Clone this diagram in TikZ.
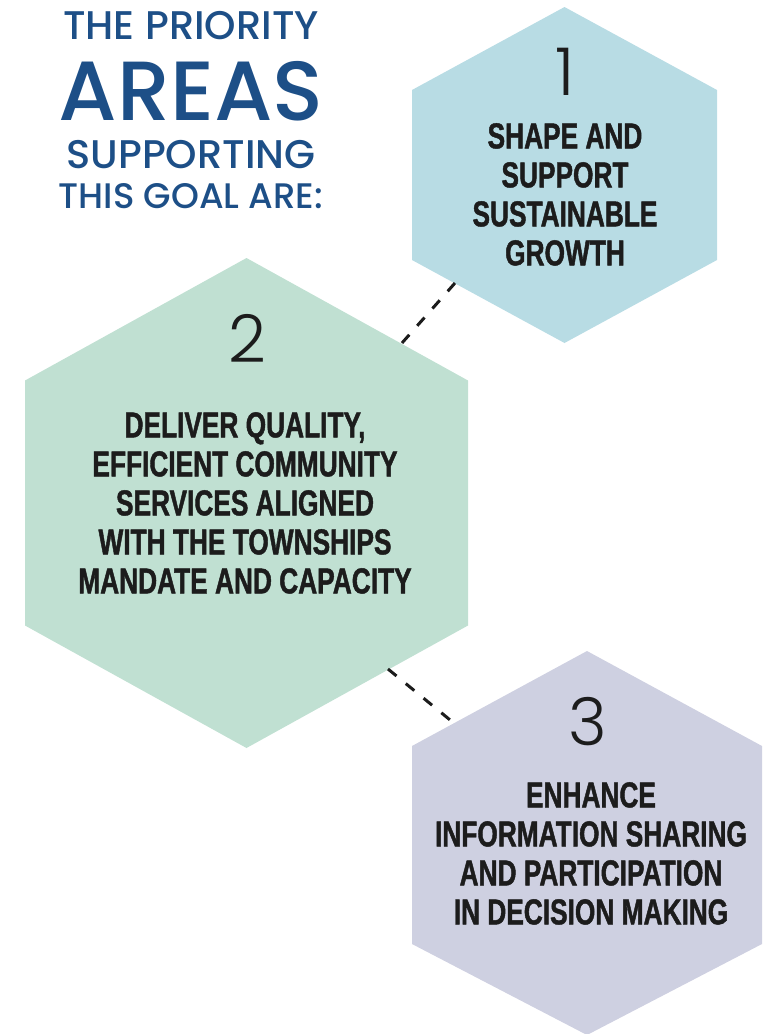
\documentclass[tikz,border=0pt]{standalone}
\usepackage{fontspec}
\setmainfont{Liberation Sans}
% heading, numbers and goal texts
\IfFontExistsTF{Poppins Medium}
  {\newfontfamily\titlefont{Poppins Medium}}
  {\newfontfamily\titlefont{Poppins}[UprightFont=*, BoldFont=*]}
\IfFontExistsTF{Poppins Light}
  {\newfontfamily\numfont{Poppins Light}}
  {\newfontfamily\numfont{Poppins}}
\newfontfamily\goalfont{Liberation Sans Bold}[FakeStretch=0.73, FakeBold=1.2]

\definecolor{titleblue}{HTML}{1D4F87}
\definecolor{goaltext}{HTML}{1C1C1C}
\definecolor{hexone}{HTML}{B8DCE4}
\definecolor{hextwo}{HTML}{C0E0D2}
\definecolor{hexthree}{HTML}{CED0E1}

\begin{document}
\begin{tikzpicture}[x=1pt, y=-1pt,
    title/.style={inner sep=0pt, anchor=base, text=titleblue},
    num/.style={inner sep=0pt, anchor=base, text=goaltext,
        font=\numfont\fontsize{66}{66}\selectfont},
    goal/.style={align=center, inner sep=0pt, anchor=north, text=goaltext,
        font=\goalfont\fontsize{36}{39}\selectfont},
    link/.style={draw=goaltext, line width=3pt, dash pattern=on 11pt off 12pt}]
    \useasboundingbox (0,0) rectangle (769,1034);

    % Heading
    \node[title, font=\titlefont\fontsize{40}{40}\selectfont] (head1) at (191,39) {THE PRIORITY};
    \node[title, font=\titlefont\fontsize{84}{84}\selectfont] (head2) at (191,120) {AREAS};
    \node[title, font=\titlefont\fontsize{40}{40}\selectfont] (head3) at (191,168) {SUPPORTING};
    \node[title, font=\titlefont\fontsize{35.5}{35.5}\selectfont] (head4) at (191,208) {THIS GOAL ARE:};

    % Hexagons
    \coordinate (c1) at (564.5,175);
    \fill[hexone] (c1) +(0,-168) -- +(152.5,-85) -- +(152.5,85) -- +(0,168)
        -- +(-152.5,85) -- +(-152.5,-85) -- cycle;
    \coordinate (c2) at (246.5,503);
    \fill[hextwo] (c2) +(0,-245) -- +(221.5,-122.5) -- +(221.5,122.5) -- +(0,245)
        -- +(-221.5,122.5) -- +(-221.5,-122.5) -- cycle;
    \coordinate (c3) at (587,843);
    \fill[hexthree] (c3) +(0,-192) -- +(175,-97) -- +(175,101) -- +(0,192)
        -- +(-175,101) -- +(-175,-97) -- cycle;

    % Numbers
    \node[num] (n1) at (565,95) {1};
    \node[num] (n2) at (247,362) {2};
    \node[num] (n3) at (588,745) {3};

    % Goals
    \node[goal] (g1) at (565,123) {SHAPE AND\\SUPPORT\\SUSTAINABLE\\GROWTH};
    \node[goal] (g2) at (245,412) {DELIVER QUALITY,\\EFFICIENT COMMUNITY\\SERVICES ALIGNED\\WITH THE TOWNSHIPS\\MANDATE AND CAPACITY};
    \node[goal] (g3) at (591,782) {ENHANCE\\INFORMATION SHARING\\AND PARTICIPATION\\IN DECISION MAKING};

    % Dashed links between the hexagons
    \coordinate (e1) at (455,283);
    \coordinate (e2) at (402,343);
    \coordinate (e3) at (388,669);
    \coordinate (e4) at (455,724);
    \draw[link] (e2) -- (e1);
    \draw[link] (e3) -- (e4);
\end{tikzpicture}
\end{document}
